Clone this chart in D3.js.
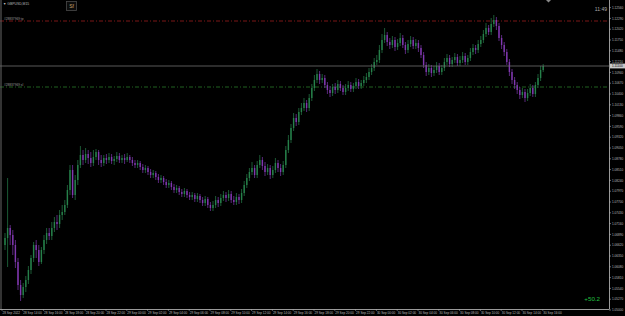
<!DOCTYPE html>
<html><head><meta charset="utf-8">
<script src="https://cdn.jsdelivr.net/npm/d3@7"></script>
<style>html,body{margin:0;padding:0;background:#000;overflow:hidden}</style>
</head><body><svg id="c" width="625" height="316"></svg>
<script>
const symbolLabel = "\u25BC GBPUSD,M15";
const open0 = 1.06625;
const closes = [
1.068,1.0705,1.06875,1.06625,1.062,1.05625,1.05375,1.05575,1.0575,1.06,
1.063,1.06625,1.065,1.062,1.065,1.0675,1.06925,1.0685,1.0705,1.072,
1.0715,1.07375,1.0745,1.07625,1.08,1.085,1.07875,1.0825,1.08625,1.08875,
1.0875,1.089,1.088,1.08675,1.08825,1.0895,1.0875,1.08675,1.088,1.0875,
1.08825,1.08725,1.08775,1.0885,1.0875,1.088,1.0875,1.08825,1.0875,1.08675,
1.08625,1.08675,1.08575,1.085,1.0855,1.0845,1.08375,1.08425,1.08325,1.0825,
1.083,1.082,1.08125,1.08175,1.08075,1.08,1.0805,1.0795,1.079,1.07975,
1.07875,1.07825,1.07875,1.07775,1.0785,1.0775,1.07675,1.07775,1.07625,1.0755,
1.07625,1.0775,1.07675,1.078,1.07875,1.078,1.079,1.0775,1.077,1.07825,
1.0775,1.07925,1.08125,1.083,1.0845,1.0855,1.08375,1.08625,1.0875,1.086,
1.0845,1.0855,1.08375,1.085,1.08675,1.0855,1.0845,1.08625,1.09,1.0925,
1.0955,1.098,1.097,1.0995,1.1005,1.10175,1.1005,1.103,1.1055,1.1075,
1.109,1.1075,1.108,1.10625,1.105,1.10425,1.10575,1.105,1.1065,1.1055,
1.1045,1.1055,1.10625,1.10525,1.106,1.107,1.106,1.10675,1.1075,1.10825,
1.1095,1.1105,1.112,1.1125,1.115,1.1175,1.11875,1.117,1.11625,1.1175,
1.11575,1.11675,1.118,1.11625,1.115,1.1165,1.1175,1.116,1.11675,1.1155,
1.11375,1.11125,1.1095,1.1105,1.10925,1.11,1.111,1.1095,1.1105,1.112,
1.113,1.1115,1.1125,1.11325,1.11175,1.1125,1.1135,1.112,1.113,1.1145,
1.1155,1.115,1.1165,1.1175,1.119,1.1205,1.1195,1.1215,1.1225,1.121,
1.118,1.11625,1.1145,1.112,1.1095,1.1075,1.10625,1.105,1.10375,1.1045,
1.103,1.10425,1.1055,1.104,1.10625,1.108,1.11,1.111
];
const highs = [
1.06925,1.083,1.07125,1.07,1.0675,1.063,1.0575,1.05675,1.0585,1.061,
1.06375,1.067,1.0675,1.06625,1.06575,1.06875,1.0705,1.0705,1.072,1.07325,
1.07375,1.075,1.07625,1.0775,1.08125,1.08625,1.08625,1.08375,1.0875,1.091,
1.09,1.0905,1.09,1.0895,1.09,1.09025,1.09,1.08875,1.08875,1.089,
1.08925,1.089,1.0885,1.0895,1.08925,1.08875,1.089,1.08925,1.08875,1.08825,
1.0875,1.0875,1.08725,1.0865,1.08625,1.086,1.08525,1.085,1.08475,1.084,
1.08375,1.0835,1.08275,1.0825,1.08225,1.0815,1.08125,1.081,1.08025,1.0805,
1.08025,1.0795,1.0795,1.07925,1.07925,1.079,1.07825,1.0785,1.07825,1.077,
1.07725,1.0785,1.07825,1.079,1.07975,1.0795,1.08,1.07975,1.0785,1.07925,
1.079,1.08025,1.08225,1.084,1.0855,1.087,1.08625,1.08725,1.08875,1.08825,
1.087,1.0865,1.08625,1.086,1.088,1.0875,1.0865,1.08725,1.091,1.09375,
1.0965,1.09925,1.099,1.1005,1.10175,1.103,1.1025,1.104,1.1065,1.10875,
1.11025,1.10975,1.109,1.10875,1.107,1.106,1.1065,1.10675,1.1075,1.10725,
1.10625,1.1065,1.10725,1.107,1.10675,1.108,1.10775,1.1075,1.1085,1.10925,
1.1105,1.1115,1.113,1.11375,1.11625,1.119,1.1205,1.1195,1.118,1.1185,
1.11825,1.11775,1.11925,1.11875,1.117,1.1175,1.1185,1.11825,1.11775,1.1175,
1.11625,1.1145,1.112,1.1115,1.11125,1.111,1.112,1.11175,1.11125,1.113,
1.114,1.11375,1.11325,1.11425,1.114,1.1135,1.1145,1.11425,1.11375,1.1155,
1.1165,1.11625,1.1175,1.1185,1.12,1.12175,1.12125,1.123,1.12375,1.12325,
1.12175,1.11875,1.117,1.11525,1.11275,1.11025,1.10825,1.107,1.10575,1.1055,
1.10525,1.10525,1.1065,1.10625,1.107,1.109,1.111,1.1115
];
const lows = [
1.065,1.06075,1.06625,1.06375,1.0605,1.055,1.05225,1.053,1.0545,1.0565,
1.059,1.062,1.063,1.061,1.0615,1.064,1.0665,1.0675,1.0675,1.0695,
1.07,1.0705,1.0725,1.07375,1.0755,1.07875,1.078,1.0775,1.08125,1.0855,
1.08625,1.08675,1.0865,1.08575,1.086,1.0875,1.08625,1.08575,1.086,1.0865,
1.08675,1.0865,1.08625,1.087,1.08675,1.08675,1.0865,1.087,1.08675,1.086,
1.0855,1.0855,1.085,1.08425,1.08425,1.08375,1.083,1.083,1.0825,1.08175,
1.08175,1.08125,1.0805,1.0805,1.08,1.07925,1.07925,1.07875,1.07825,1.07825,
1.078,1.0775,1.0775,1.077,1.077,1.07675,1.076,1.076,1.0755,1.07475,
1.07475,1.0755,1.07575,1.076,1.07725,1.077,1.07725,1.07675,1.07625,1.07625,
1.0765,1.07675,1.0785,1.0805,1.08225,1.08375,1.083,1.083,1.0855,1.085,
1.0835,1.08375,1.08275,1.083,1.08425,1.0845,1.0835,1.08375,1.0855,1.08925,
1.09175,1.09475,1.096,1.09625,1.09875,1.09975,1.0995,1.09975,1.10225,1.10475,
1.10675,1.1065,1.10675,1.1055,1.104,1.10325,1.1035,1.104,1.10425,1.10475,
1.10375,1.10375,1.10475,1.1045,1.1045,1.10525,1.10525,1.10525,1.106,1.10675,
1.1075,1.10875,1.10975,1.11125,1.11175,1.11425,1.11675,1.116,1.11525,1.1155,
1.11475,1.115,1.116,1.1155,1.114,1.11425,1.11575,1.11525,1.11525,1.1145,
1.113,1.1105,1.1085,1.10875,1.10825,1.1085,1.10925,1.10875,1.10875,1.10975,
1.11125,1.11075,1.11075,1.11175,1.111,1.111,1.11175,1.11125,1.11125,1.11225,
1.11375,1.114,1.11425,1.11575,1.11675,1.11825,1.11875,1.11875,1.12075,1.12,
1.11725,1.11525,1.1135,1.11125,1.1085,1.1065,1.10525,1.104,1.10275,1.103,
1.102,1.10225,1.1035,1.10325,1.10325,1.1055,1.10725,1.1095
];
const priceTicks = [
1.12560,1.12290,1.12020,1.11750,1.11480,1.11210,1.10940,1.10670,1.10400,1.10130,
1.09860,1.09590,1.09320,1.09050,1.08780,1.08510,1.08240,1.07970,1.07700,1.07430,
1.07160,1.06890,1.06620,1.06350,1.06080,1.05810,1.05540,1.05270,1.05000
];
const timeLabels = [
"28 Sep 2022","28 Sep 14:00","28 Sep 16:00","28 Sep 18:00","28 Sep 20:00","28 Sep 22:00",
"29 Sep 00:00","29 Sep 02:00","29 Sep 04:00","29 Sep 06:00","29 Sep 08:00","29 Sep 10:00",
"29 Sep 12:00","29 Sep 14:00","29 Sep 16:00","29 Sep 18:00","29 Sep 20:00","29 Sep 22:00",
"30 Sep 00:00","30 Sep 02:00","30 Sep 04:00","30 Sep 06:00","30 Sep 08:00","30 Sep 10:00",
"30 Sep 12:00","30 Sep 14:00","30 Sep 16:00"
];
const timeLabelBars = [0,8,16,24,32,40,48,56,64,72,80,88,96,104,112,120,128,136,144,152,160,168,176,184,192,200,208];
const tpPrice = 1.12225, slPrice = 1.10575;
const orderTpLabel = "#28837969 tp", orderSlLabel = "#28837969 sl";
const profitText = "+50.2";
const clockText = "11:49";

const W = 625, H = 316, plotR = 609, plotB = 309;
const svg = d3.select("#c");
svg.append("rect").attr("width", W).attr("height", H).attr("fill", "#000");

const x = d3.scaleLinear().domain([0, 207]).range([5, 5 + 2.6 * 207]);
const y = d3.scaleLinear().domain([1.1275, 1.05]).range([0, 310]);

svg.append("defs").append("clipPath").attr("id", "pc")
  .append("rect").attr("x", 0).attr("y", 0).attr("width", plotR).attr("height", plotB);

const bars = closes.map((c, i) => ({i, o: i === 0 ? open0 : closes[i - 1], c, h: highs[i], l: lows[i]}));
const bull = "#26804a", bear = "#8038b0";
const g = svg.append("g").attr("clip-path", "url(#pc)");

const fs = "'Liberation Sans', Arial, sans-serif";
g.append("line").attr("x1", 0).attr("x2", plotR).attr("y1", y(tpPrice)).attr("y2", y(tpPrice))
  .attr("stroke", "#9a1c1c").attr("stroke-width", 0.8).attr("stroke-dasharray", "4,2,1,2");
g.append("line").attr("x1", 0).attr("x2", plotR).attr("y1", y(slPrice)).attr("y2", y(slPrice))
  .attr("stroke", "#2a7a2a").attr("stroke-width", 0.8).attr("stroke-dasharray", "4,2,1,2");
g.append("text").attr("x", 4).attr("y", y(tpPrice) - 1.3).text(orderTpLabel)
  .attr("font-family", fs).attr("font-size", 3.2).attr("fill", "#999");
g.append("text").attr("x", 4).attr("y", y(slPrice) - 1.3).text(orderSlLabel)
  .attr("font-family", fs).attr("font-size", 3.2).attr("fill", "#999");

const last = closes[closes.length - 1];
svg.append("line").attr("x1", 0).attr("x2", plotR).attr("y1", y(last)).attr("y2", y(last))
  .attr("stroke", "#6e6e6e").attr("stroke-width", 0.8);

g.selectAll("line.w").data(bars).join("line").attr("class", "w")
  .attr("x1", d => x(d.i)).attr("x2", d => x(d.i))
  .attr("y1", d => y(d.h)).attr("y2", d => y(d.l))
  .attr("stroke", d => d.c >= d.o ? bull : bear).attr("stroke-width", 0.7);
g.selectAll("rect.b").data(bars).join("rect").attr("class", "b")
  .attr("x", d => x(d.i) - 0.7).attr("width", 1.4)
  .attr("y", d => y(Math.max(d.o, d.c)))
  .attr("height", d => Math.max(0.7, Math.abs(y(d.o) - y(d.c))))
  .attr("fill", d => d.c >= d.o ? bull : bear);

svg.append("line").attr("x1", 1).attr("x2", 1).attr("y1", 0).attr("y2", plotB).attr("stroke", "#666").attr("stroke-width", 1);
svg.append("line").attr("x1", plotR + 0.5).attr("x2", plotR + 0.5).attr("y1", 0).attr("y2", plotB).attr("stroke", "#999").attr("stroke-width", 1);
svg.append("line").attr("x1", 0).attr("x2", plotR + 0.5).attr("y1", plotB + 0.5).attr("y2", plotB + 0.5).attr("stroke", "#999").attr("stroke-width", 1);

const pa = svg.append("g");
pa.selectAll("line").data(priceTicks).join("line")
  .attr("x1", plotR).attr("x2", plotR + 2).attr("y1", d => y(d)).attr("y2", d => y(d)).attr("stroke", "#aaa").attr("stroke-width", 0.6);
pa.selectAll("text").data(priceTicks).join("text")
  .attr("x", plotR + 3).attr("y", d => y(d) + 1.1).text(d => d.toFixed(5))
  .attr("font-family", fs).attr("font-size", 3.1).attr("fill", "#bbb");
svg.append("rect").attr("x", plotR + 1).attr("y", y(last) - 2.4).attr("width", 15).attr("height", 4.8).attr("fill", "#c8c8c8");
svg.append("text").attr("x", plotR + 3).attr("y", y(last) + 1.1).text(last.toFixed(5))
  .attr("font-family", fs).attr("font-size", 3.1).attr("fill", "#000");

const ta = svg.append("g");
ta.selectAll("line").data(timeLabelBars).join("line")
  .attr("x1", d => x(d) - 3).attr("x2", d => x(d) - 3).attr("y1", plotB).attr("y2", plotB + 2).attr("stroke", "#aaa").attr("stroke-width", 0.5);
ta.selectAll("text").data(timeLabels).join("text")
  .attr("x", (d, k) => x(timeLabelBars[k]) - 2.5).attr("y", 314).text(d => d)
  .attr("font-family", fs).attr("font-size", 3.1).attr("fill", "#bbb");

svg.append("text").attr("x", 3).attr("y", 4.5).text(symbolLabel)
  .attr("font-family", fs).attr("font-size", 3.4).attr("fill", "#bbb");
svg.append("rect").attr("x", 66.5).attr("y", 1.5).attr("width", 10).attr("height", 9)
  .attr("fill", "#0c0c0c").attr("stroke", "#4a4a4a").attr("stroke-width", 0.8);
svg.append("text").attr("x", 71.5).attr("y", 7.8).attr("text-anchor", "middle").text("Sf")
  .attr("font-family", fs).attr("font-size", 5).attr("fill", "#c9a46a");

svg.append("path").attr("d", d3.line()([[546, 0], [551, 0], [548.5, 2.5]])).attr("fill", "#888");

svg.append("text").attr("x", 607).attr("y", 11).attr("text-anchor", "end").text(clockText)
  .attr("font-family", fs).attr("font-size", 5).attr("fill", "#aaa");
svg.append("text").attr("x", 600).attr("y", 300.5).attr("text-anchor", "end").text(profitText)
  .attr("font-family", fs).attr("font-size", 6.2).attr("fill", "#20c040");
</script></body></html>
